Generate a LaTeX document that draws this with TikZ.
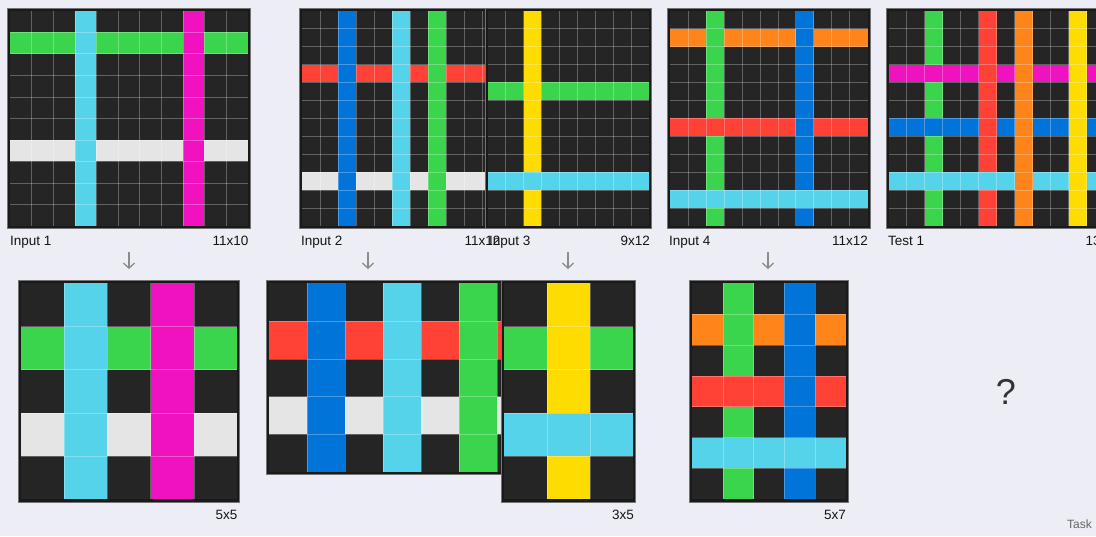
\documentclass[tikz,border=0pt]{standalone}
\usepackage{fontspec}
\setmainfont{Liberation Sans}
\usetikzlibrary{arrows.meta}
\definecolor{bg}{HTML}{ECEDF5}
\definecolor{cblack}{HTML}{252525}
\definecolor{cframe}{HTML}{1A1A1A}
\definecolor{cgreen}{HTML}{3AD54C}
\definecolor{ccyan}{HTML}{55D3EB}
\definecolor{cmag}{HTML}{F012BE}
\definecolor{cwhite}{HTML}{E5E5E5}
\definecolor{cblue}{HTML}{0074D9}
\definecolor{cred}{HTML}{FF4136}
\definecolor{cyellow}{HTML}{FFDC00}
\definecolor{corange}{HTML}{FF851B}
\definecolor{ctext}{HTML}{151515}
\definecolor{cq}{HTML}{333333}
\definecolor{ctask}{HTML}{666666}
\definecolor{carrow}{HTML}{8C8C8C}

\def\SetG#1#2#3#4#5#6{\def\gX{#1}\def\gY{#2}\def\gW{#3}\def\gH{#4}\def\gC{#5}\def\gR{#6}}
\def\GridBase{%
  \draw[gframe] ({\gX-2.7},{\gY-2.7}) rectangle ({\gX+\gC*\gW+2.7},{\gY+\gR*\gH+2.7});
  \fill[cblack] (\gX,\gY) rectangle ({\gX+\gC*\gW},{\gY+\gR*\gH});}
\def\GridH#1#2{\fill[#1] (\gX,{\gY+#2*\gH}) rectangle ({\gX+\gC*\gW},{\gY+(#2+1)*\gH});}
\def\GridV#1#2{\fill[#1] ({\gX+#2*\gW},\gY) rectangle ({\gX+(#2+1)*\gW},{\gY+\gR*\gH});}
\def\GridLines{%
  \pgfmathtruncatemacro\gCm{\gC-1}\pgfmathtruncatemacro\gRm{\gR-1}%
  \foreach \i in {1,...,\gCm}{\draw[gline] ({\gX+\i*\gW},\gY) -- ({\gX+\i*\gW},{\gY+\gR*\gH});}%
  \foreach \j in {1,...,\gRm}{\draw[gline] (\gX,{\gY+\j*\gH}) -- ({\gX+\gC*\gW},{\gY+\j*\gH});}}

\begin{document}
\begin{tikzpicture}[x=1pt,y=-1pt,
  gframe/.style={fill=cframe, draw=black!55, line width=0.7pt},
  gline/.style={draw=white, draw opacity=0.28, line width=0.6pt},
  lbl/.style={font=\fontsize{13.5}{16}\selectfont, text=ctext, inner sep=0pt},
  flow/.style={draw=carrow, line width=1.3pt, -{Straight Barb[length=5pt,width=11pt]}}]
\path[use as bounding box, fill=bg] (0,0) rectangle (1096,536);
\clip (0,0) rectangle (1096,536);

% ---- Input 1 (11x10)
\SetG{10}{10.7}{21.61}{21.53}{11}{10}
\GridBase
\GridH{cgreen}{1}\GridH{cwhite}{6}\GridV{ccyan}{3}\GridV{cmag}{8}
\GridLines
\node[lbl, anchor=base west] (in1) at (10,245) {Input 1};
\node[lbl, anchor=base east] (in1s) at (248.5,245) {11x10};

% ---- Input 2 (11x12)
\SetG{302}{10.7}{18}{17.94}{11}{12}
\GridBase
\GridH{cred}{3}\GridH{cwhite}{9}\GridV{cblue}{2}\GridV{ccyan}{5}\GridV{cgreen}{7}
\GridLines

% ---- Input 3 (9x12)
\SetG{487.7}{10.7}{17.93}{17.94}{9}{12}
\GridBase
\GridH{cgreen}{4}\GridV{cyellow}{2}\GridH{ccyan}{9}
\GridLines
\node[lbl, anchor=base west] (in2) at (301,245) {Input 2};
\node[lbl, anchor=base east] (in2s) at (500.5,245) {11x12};
\node[lbl, anchor=base west] (in3) at (489,245) {Input 3};
\node[lbl, anchor=base east] (in3s) at (650,245) {9x12};

% ---- Input 4 (11x12)
\SetG{670}{10.7}{17.97}{17.94}{11}{12}
\GridBase
\GridH{corange}{1}\GridV{cgreen}{2}\GridH{cred}{6}\GridV{cblue}{7}\GridH{ccyan}{10}
\GridLines
\node[lbl, anchor=base west] (in4) at (669,245) {Input 4};
\node[lbl, anchor=base east] (in4s) at (868,245) {11x12};

% ---- Test 1 (13x12)
\SetG{888.7}{10.7}{18}{17.94}{13}{12}
\GridBase
\GridV{cgreen}{2}\GridH{cmag}{3}\GridH{cblue}{6}\GridV{cred}{5}\GridH{ccyan}{9}\GridV{corange}{7}\GridV{cyellow}{10}
\GridLines
\node[lbl, anchor=base west] (t1) at (888,245) {Test 1};
\node[lbl, anchor=base east] (t1s) at (1122.7,245) {13x12};

% ---- arrows
\coordinate (a1s) at (129,252); \coordinate (a1e) at (129,269);
\coordinate (a2s) at (368,252); \coordinate (a2e) at (368,269);
\coordinate (a3s) at (568,252); \coordinate (a3e) at (568,269);
\coordinate (a4s) at (768,252); \coordinate (a4e) at (768,269);
\draw[flow] (a1s) -- (a1e);
\draw[flow] (a2s) -- (a2e);
\draw[flow] (a3s) -- (a3e);
\draw[flow] (a4s) -- (a4e);

% ---- Output 1 (5x5)
\SetG{21}{283.3}{43.2}{43.2}{5}{5}
\GridBase
\GridH{cgreen}{1}\GridH{cwhite}{3}\GridV{ccyan}{1}\GridV{cmag}{3}
\GridLines
\node[lbl, anchor=base east] (o1s) at (237.7,519) {5x5};

% ---- Output 2 (7x5)
\SetG{269}{283.3}{38}{37.75}{7}{5}
\GridBase
\GridH{cred}{1}\GridH{cwhite}{3}\GridV{cblue}{1}\GridV{ccyan}{3}\GridV{cgreen}{5}
\GridLines

% ---- Output 3 (3x5)
\SetG{504}{283.3}{42.9}{43.2}{3}{5}
\GridBase
\GridH{cgreen}{1}\GridV{cyellow}{1}\GridH{ccyan}{3}
\GridLines
\node[lbl, anchor=base east] (o3s) at (634,519) {3x5};

% ---- Output 4 (5x7)
\SetG{692}{283.3}{30.8}{30.86}{5}{7}
\GridBase
\GridH{corange}{1}\GridV{cgreen}{1}\GridH{cred}{3}\GridV{cblue}{3}\GridH{ccyan}{5}
\GridLines
\node[lbl, anchor=base east] (o4s) at (846,519) {5x7};

% ---- unknown output
\node[font=\fontsize{36}{40}\selectfont, text=cq, inner sep=0pt] (q) at (1006,392) {?};
\node[font=\fontsize{12}{14}\selectfont, text=ctask, inner sep=0pt, anchor=base east] (task) at (1092,528) {Task};
\end{tikzpicture}
\end{document}
